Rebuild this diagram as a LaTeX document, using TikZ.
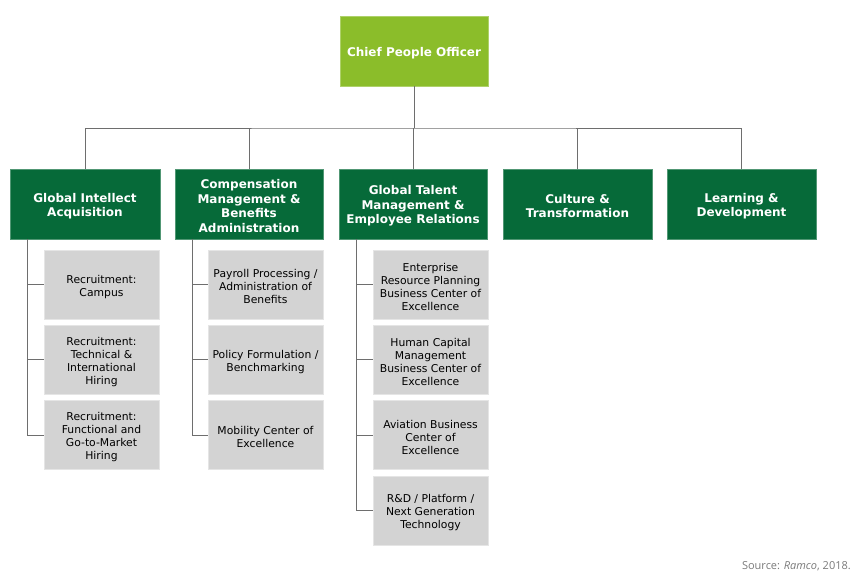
\documentclass[tikz,border=0pt]{standalone}
\usepackage{fontspec}
\setmainfont{DejaVu Sans}
\newfontfamily\srcfont{Open Sans}
\definecolor{topgreen}{HTML}{8BBD2A}
\definecolor{dkgreen}{HTML}{066A39}
\definecolor{boxgray}{HTML}{D3D3D3}
\definecolor{linegray}{HTML}{6E6E6E}
\definecolor{srcgray}{HTML}{7A7A7A}
\newcommand\tpad{\rule{0pt}{13pt}}
\begin{document}
\begin{tikzpicture}[x=1pt,y=-1pt,
  topbox/.style={fill=topgreen,draw=topgreen!70!white,line width=0.8pt,text=white,font=\bfseries\fontsize{12}{14}\selectfont,align=center,minimum width=148pt,minimum height=70pt,inner sep=0pt},
  headbox/.style={fill=dkgreen,draw=dkgreen!70!white,line width=0.8pt,text=white,font=\bfseries\fontsize{12}{14.5}\selectfont,align=center,minimum height=70pt,inner sep=0pt},
  subbox/.style={fill=boxgray,draw=boxgray!60!white,line width=0.8pt,text=black,font=\fontsize{10.8}{13}\selectfont,align=center,minimum width=115pt,minimum height=69pt,inner sep=0pt},
  conn/.style={draw=linegray,line width=1pt}]
\useasboundingbox (0,0) rectangle (864,582);
\node[topbox] (cpo) at (414,51) {\tpad Chief People Officer};
\node[headbox,minimum width=150pt] (h1) at (85,204) {\tpad Global Intellect\\Acquisition};
\node[headbox,minimum width=148pt] (h2) at (249,204) {\tpad Compensation\\Management \&\\Benefits\\Administration};
\node[headbox,minimum width=148pt] (h3) at (413,204) {\tpad Global Talent\\Management \&\\Employee Relations};
\node[headbox,minimum width=149pt] (h4) at (577.5,204) {\tpad Culture \&\\Transformation};
\node[headbox,minimum width=149pt] (h5) at (741.5,204) {\tpad Learning \&\\Development};
\coordinate (bus) at (414,128);
\draw[conn] (cpo.south) -- (bus);
\draw[conn] (h1.north) |- (bus) -| (h5.north);
\draw[conn] (h2.north) -- (h2.north |- bus);
\draw[conn] (h3.north) -- (h3.north |- bus);
\draw[conn] (h4.north) -- (h4.north |- bus);
% column 1
\node[subbox] (a1) at (101.5,284.5) {\tpad Recruitment:\\Campus};
\node[subbox] (a2) at (101.5,359.5) {\tpad Recruitment:\\Technical \&\\International\\Hiring};
\node[subbox] (a3) at (101.5,435) {\tpad Recruitment:\\Functional and\\Go-to-Market\\Hiring};
% column 2
\node[subbox] (b1) at (265.5,284.5) {\tpad Payroll Processing /\\Administration of\\Benefits};
\node[subbox] (b2) at (265.5,359.5) {\tpad Policy Formulation /\\Benchmarking};
\node[subbox] (b3) at (265.5,435) {\tpad Mobility Center of\\Excellence};
% column 3
\node[subbox] (c1) at (430.5,284.5) {\tpad Enterprise\\Resource Planning\\Business Center of\\Excellence};
\node[subbox] (c2) at (430.5,359.5) {\tpad Human Capital\\Management\\Business Center of\\Excellence};
\node[subbox] (c3) at (430.5,435) {\tpad Aviation Business\\Center of\\Excellence};
\node[subbox] (c4) at (430.5,510.5) {\tpad R\&D / Platform /\\Next Generation\\Technology};
% side connectors
\coordinate (s1) at (27,239);
\coordinate (s2) at (192,239);
\coordinate (s3) at (356,239);
\draw[conn] (s1) |- (a3.west);
\draw[conn] (s1 |- a1.west) -- (a1.west);
\draw[conn] (s1 |- a2.west) -- (a2.west);
\draw[conn] (s2) |- (b3.west);
\draw[conn] (s2 |- b1.west) -- (b1.west);
\draw[conn] (s2 |- b2.west) -- (b2.west);
\draw[conn] (s3) |- (c4.west);
\draw[conn] (s3 |- c1.west) -- (c1.west);
\draw[conn] (s3 |- c2.west) -- (c2.west);
\draw[conn] (s3 |- c3.west) -- (c3.west);
\node[anchor=east,text=srcgray,font=\srcfont\fontsize{11}{12}\selectfont,inner sep=0pt] (src) at (851,566) {Source: \textit{Ramco}, 2018.};
\end{tikzpicture}
\end{document}
